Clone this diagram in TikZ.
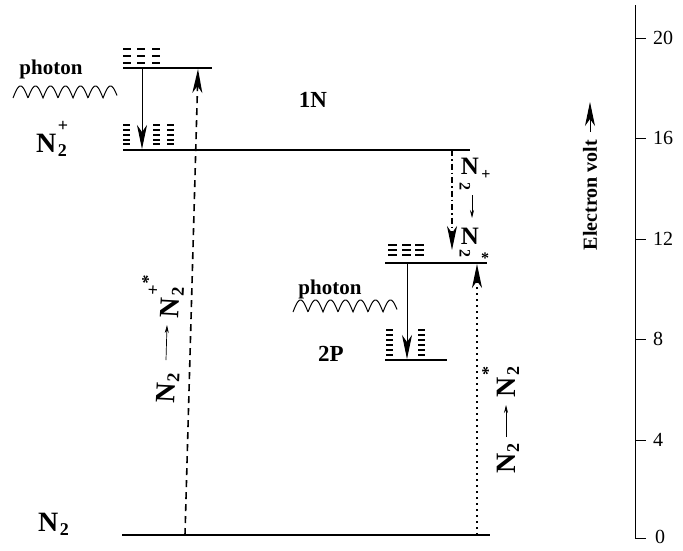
\documentclass[tikz,border=0pt]{standalone}
\usepackage{fontspec}
\setmainfont{Liberation Serif}
\usetikzlibrary{arrows.meta}
\newcommand{\lo}[1]{\raisebox{-4pt}{\fontsize{18}{18}\selectfont #1}}
\newcommand{\hi}[1]{\raisebox{0.75em}{\fontsize{18}{18}\selectfont #1}}
\newcommand{\Ntwo}{N\kern1.5pt\lo{2}}
\newcommand{\Ntwosup}[1]{N\kern1.5pt\rlap{\lo{2}}\hi{#1}}
\begin{document}
\begin{tikzpicture}[x=1pt,y=-1pt,
  lvl/.style={line width=1.3pt},
  dashmark/.style={line width=1.2pt},
  lab/.style={font=\fontsize{28}{30}\selectfont\bfseries, inner sep=0pt},
  mid/.style={font=\fontsize{25}{27}\selectfont\bfseries, inner sep=0pt},
  txt/.style={font=\fontsize{21}{23}\selectfont\bfseries, inner sep=0pt},
  big/.style={font=\fontsize{23}{25}\selectfont\bfseries, inner sep=0pt},
  num/.style={font=\fontsize{20}{22}\selectfont, inner sep=0pt, anchor=west},
  tip/.style={-{Stealth[length=24pt,width=10pt,inset=7pt]}},
  thinarrow/.style={-{Stealth[length=8pt,width=4pt]}, line width=0.7pt},
  small/.style={font=\fontsize{16}{16}\selectfont\bfseries, inner sep=0pt},
  ]
\useasboundingbox (0,0) rectangle (683,550);
% level end points
\coordinate (t1) at (123,68);  \coordinate (t2) at (212,68);
\coordinate (p1) at (123,150); \coordinate (p2) at (470,150);
\coordinate (c1) at (385,263); \coordinate (c2) at (487,263);
\coordinate (b1) at (385,360); \coordinate (b2) at (447,360);
\coordinate (g1) at (122,535); \coordinate (g2) at (490,535);
\draw[lvl] (t1) -- (t2);
\draw[lvl] (p1) -- (p2);
\draw[lvl] (c1) -- (c2);
\draw[lvl] (b1) -- (b2);
\draw[lvl] (g1) -- (g2);
% sublevel dashes
\foreach \r in {49,56,63} \foreach \c in {123,137,152} \draw[dashmark] (\c,\r) -- ++(8,0);
\foreach \r in {125,130,135,140,144} \foreach \c in {123,153,167} \draw[dashmark] (\c,\r) -- ++(7,0);
\foreach \r in {245,250,255} \foreach \c in {388,402,415} \draw[dashmark] (\c,\r) -- ++(9,0);
\foreach \r in {330,335,340,345,350,355} \foreach \c in {386,418} \draw[dashmark] (\c,\r) -- ++(7,0);
% transition arrows
\coordinate (a1s) at (142,68);  \coordinate (a1e) at (142,149);
\coordinate (a2s) at (185,535); \coordinate (a2e) at (198,69);
\coordinate (a3s) at (452,150); \coordinate (a3e) at (452,250);
\coordinate (a4s) at (407,263); \coordinate (a4e) at (407,359);
\coordinate (a5s) at (477,535); \coordinate (a5e) at (477,264);
\draw[tip, line width=1pt] (a1s) -- (a1e);
\draw[tip, line width=1.6pt, dash pattern=on 7pt off 5pt] (a2s) -- (a2e);
\draw[tip, line width=1.3pt, dash pattern=on 6pt off 3pt on 1.5pt off 3pt] (a3s) -- (a3e);
\draw[tip, line width=1pt] (a4s) -- (a4e);
\draw[tip, line width=1.6pt, dash pattern=on 1.6pt off 4.4pt] (a5s) -- (a5e);
% photons
\draw[line width=1pt, domain=0:104, samples=240, smooth] plot ({13+\x}, {98-12*abs(sin(\x*12))});
\draw[line width=1pt, domain=0:104, samples=240, smooth] plot ({293+\x}, {312-12*abs(sin(\x*12))});
\node[txt] (ph1) at (51,69) {photon};
\node[txt] (ph2) at (330,289) {photon};
% labels
\node[lab, anchor=base west] (n2p) at (36,152) {\Ntwosup{+}};
\node[lab, anchor=base west] (n2) at (38,531) {\Ntwo};
\node[big] (l1n) at (313,100) {1N};
\node[big] (l2p) at (331,354) {2P};
% rotated transition labels
\node[lab, rotate=87, anchor=base west] (rl) at (174,404) {\Ntwo\hspace{55pt}\Ntwosup{+\raisebox{0.3em}{*}}};
\coordinate (rls) at (166,360); \coordinate (rle) at (167,325);
\draw[thinarrow] (rls) -- (rle);
\node[lab, rotate=90, anchor=base west] (rr) at (515,474) {\Ntwo\hspace{46pt}\Ntwosup{*}};
\coordinate (rrs) at (506,437); \coordinate (rre) at (506,405);
\draw[thinarrow] (rrs) -- (rre);
% middle stacked label
\node[mid] (m1) at (470,166) {N};
\node[small, rotate=-90] (m1s) at (465,186) {2};
\node[small] (m1p) at (486,175) {+};
\node[mid] (m2) at (470,236) {N};
\node[small, rotate=-90] (m2s) at (465,253) {2};
\node[small] (m2p) at (485,258) {*};
\coordinate (ms) at (472,195); \coordinate (me) at (472,218);
\draw[thinarrow] (ms) -- (me);
% axis
\coordinate (axt) at (635,5); \coordinate (ax0) at (635,538);
\draw[line width=1pt] (axt) -- (ax0) -- ++(11,0);
\foreach \v/\y in {20/38,16/138,12/239,8/339,4/440} {
  \draw[line width=0.8pt] (635,\y) -- (646,\y);
  \node[num] at (653,\y) {\v};
}
\node[num] (z0) at (655,537) {0};
\node[txt, font=\fontsize{20}{22}\selectfont\bfseries, rotate=90] (ev) at (590,195) {Electron volt};
\coordinate (evs) at (590,132); \coordinate (eve) at (590,102);
\draw[tip, line width=1pt] (evs) -- (eve);
\end{tikzpicture}
\end{document}
